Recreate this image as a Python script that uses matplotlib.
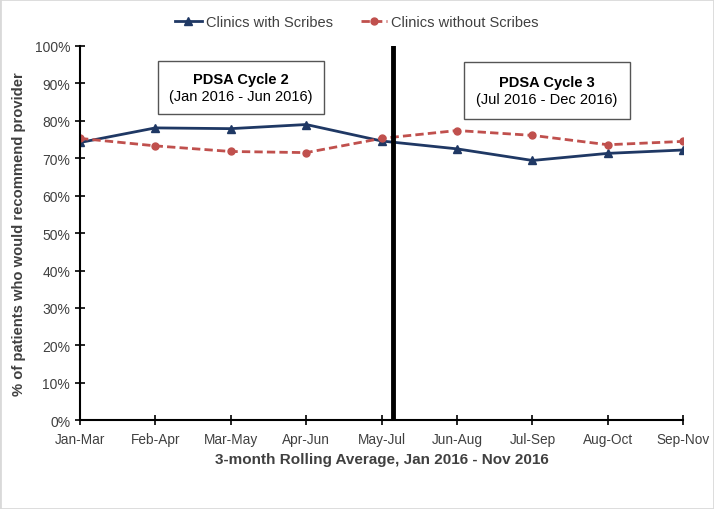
import numpy as np
import matplotlib.pyplot as plt

plt.rcParams['font.family'] = ['Liberation Sans', 'DejaVu Sans']

# Data
periods = ["Jan-Mar", "Feb-Apr", "Mar-May", "Apr-Jun", "May-Jul",
           "Jun-Aug", "Jul-Sep", "Aug-Oct", "Sep-Nov"]
with_scribes = [74.2, 78.1, 77.9, 79.0, 74.6, 72.5, 69.4, 71.3, 72.2]
without_scribes = [75.3, 73.3, 71.8, 71.5, 75.3, 77.4, 76.1, 73.6, 74.5]
yticks = list(range(0, 101, 10))

grey = "#404040"
x = np.arange(len(periods))

fig = plt.figure(figsize=(7.14, 5.1), dpi=100)
ax = fig.add_axes([0.112, 0.174, 0.845, 0.734])

ax.plot(x, with_scribes, color="#1F3864", lw=2, marker="^", ms=6,
        label="Clinics with Scribes")
ax.plot(x, without_scribes, color="#C0504D", lw=2, ls=(0, (3, 1.5)), marker="o", ms=5,
        label="Clinics without Scribes")
ax.axvline(4.15, color="black", lw=3.5)

ax.set_xlim(0, 8)
ax.set_ylim(0, 100)
ax.set_xticks(x)
ax.set_xticklabels(periods)
ax.set_yticks(yticks)
ax.set_yticklabels([f"{v}%" for v in yticks])
ax.tick_params(direction="inout", length=7, width=1.2, colors="black",
               labelcolor=grey, labelsize=10)
ax.tick_params(axis="x", pad=5, labelsize=9.8)
for s in ["top", "right"]:
    ax.spines[s].set_visible(False)
for s in ["left", "bottom"]:
    ax.spines[s].set_linewidth(1.5)

ax.set_xlabel("3-month Rolling Average, Jan 2016 - Nov 2016", fontsize=11,
              fontweight="bold", color=grey, labelpad=4)
ax.set_ylabel("% of patients who would recommend provider", fontsize=10.6,
              fontweight="bold", color=grey, labelpad=6)

# PDSA cycle boxes
boxes = [(1.03, 3.24, 81.8, 96.0, "PDSA Cycle 2", "(Jan 2016 - Jun 2016)"),
         (5.09, 7.29, 80.5, 95.8, "PDSA Cycle 3", "(Jul 2016 - Dec 2016)")]
for x0, x1, y0, y1, title, sub in boxes:
    ax.add_patch(plt.Rectangle((x0, y0), x1 - x0, y1 - y0, fc="white",
                               ec="#555555", lw=1, zorder=3))
    xc = (x0 + x1) / 2
    yc = (y0 + y1) / 2
    ax.text(xc, yc + 2.3, title, ha="center", va="center", fontsize=10.5,
            fontweight="bold", color="black", zorder=4)
    ax.text(xc, yc - 2.3, sub, ha="center", va="center", fontsize=10.5,
            color="black", zorder=4)

fig.legend(loc="upper center", bbox_to_anchor=(0.5, 0.995), ncol=2, frameon=False,
           fontsize=10.5, labelcolor=grey, handlelength=1.8, columnspacing=1.9,
           handletextpad=0.3)

fig.patches.append(plt.Rectangle((0, 0), 1, 1, transform=fig.transFigure,
                                 fill=False, ec="#D9D9D9", lw=2))
fig.savefig("out.png", dpi=100)
